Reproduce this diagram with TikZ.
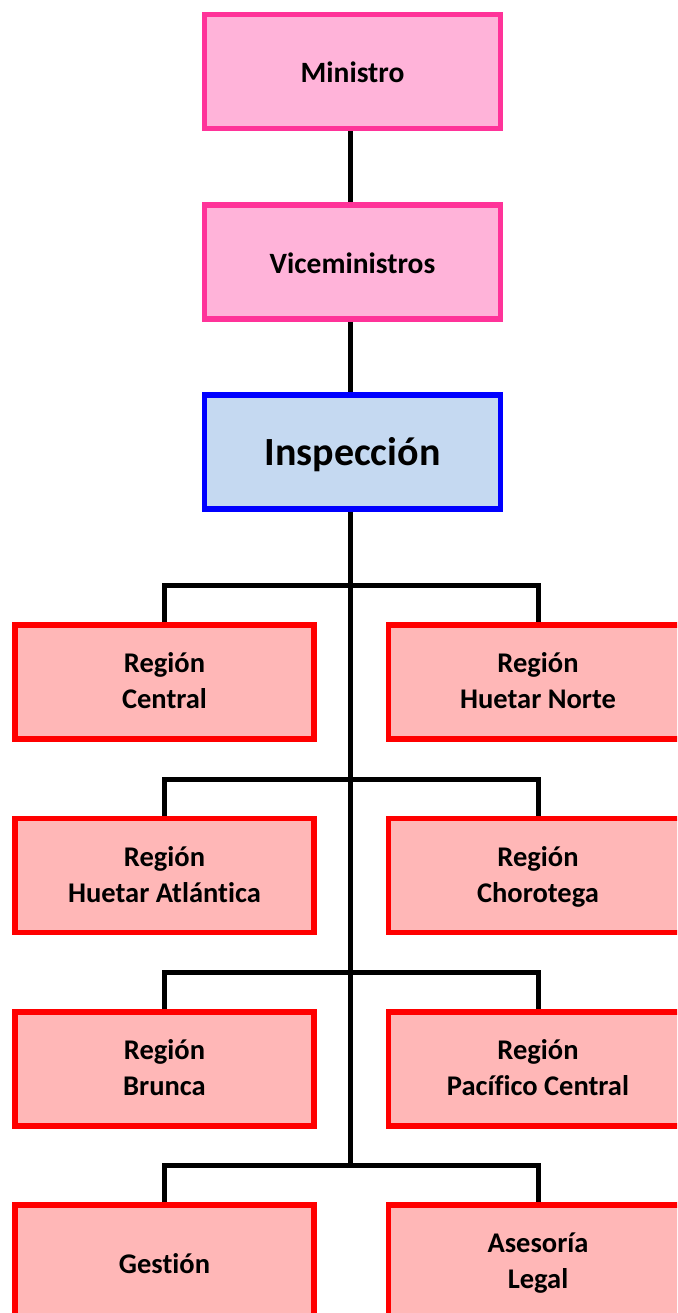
\documentclass[tikz,border=0pt]{standalone}
\usepackage{fontspec}
\setmainfont{Carlito}[Ligatures=NoCommon]
\definecolor{pinkline}{RGB}{255,51,153}
\definecolor{pinkfill}{RGB}{255,179,217}
\definecolor{blueline}{RGB}{0,0,255}
\definecolor{bluefill}{RGB}{197,217,241}
\definecolor{redline}{RGB}{255,0,0}
\definecolor{redfill}{RGB}{255,183,183}
\newcommand\tworows[2]{\rule{0pt}{28pt}#1\\#2}
\tikzset{
  unitbox/.style={draw, line width=5.5pt, minimum width=296pt, minimum height=114pt,
    align=center, font=\fontsize{28.5}{36}\selectfont\bfseries, inner sep=0pt,
    execute at begin node={\rule{0pt}{33pt}}, execute at end node=\strut},
  topbox/.style={unitbox, draw=pinkline, fill=pinkfill, font=\fontsize{29.5}{36}\selectfont\bfseries},
  headbox/.style={unitbox, draw=blueline, fill=bluefill, font=\fontsize{40}{44}\selectfont\bfseries,
    execute at begin node={\rule{0pt}{40pt}}},
  regbox/.style={unitbox, draw=redline, fill=redfill, minimum width=299pt},
  link/.style={line width=5pt}
}
\begin{document}
\begin{tikzpicture}[x=1pt,y=-1pt]
  \useasboundingbox (0,0) rectangle (677,1313);
  \begin{scope}
  \clip (0,0) rectangle (677,1313);
  % upper chain
  \node[topbox] (min) at (352.5,71.5) {Ministro};
  \node[topbox] (vice) at (352.5,262) {Viceministros};
  \node[headbox] (insp) at (352.5,452) {Inspección};
  % regions, left and right
  \node[regbox] (central) at (164.5,682) {\tworows{Región}{Central}};
  \node[regbox] (norte) at (538,682) {\tworows{Región}{Huetar Norte}};
  \node[regbox] (atlan) at (164.5,875.5) {\tworows{Región}{Huetar Atlántica}};
  \node[regbox] (choro) at (538,875.5) {\tworows{Región}{Chorotega}};
  \node[regbox] (brunca) at (164.5,1069) {\tworows{Región}{Brunca}};
  \node[regbox] (pacif) at (538,1069) {\tworows{Región}{Pacífico Central}};
  \node[regbox] (gest) at (164.5,1262) {Gestión};
  \node[regbox] (legal) at (538,1262) {\tworows{Asesoría}{Legal}};
  % trunk
  \coordinate (t1) at (350.5,585);
  \coordinate (t2) at (350.5,779);
  \coordinate (t3) at (350.5,972);
  \coordinate (t4) at (350.5,1165);
  \draw[link] (min.south -| t1) -- (vice.north -| t1);
  \draw[link] (vice.south -| t1) -- (insp.north -| t1);
  \draw[link] (insp.south -| t1) -- (t4);
  \foreach \t/\l/\r in {t1/central/norte, t2/atlan/choro, t3/brunca/pacif, t4/gest/legal}
    \draw[link] (\l.north) -- (\l.north |- \t) -- (\r.north |- \t) -- (\r.north);
  \end{scope}
\end{tikzpicture}
\end{document}
